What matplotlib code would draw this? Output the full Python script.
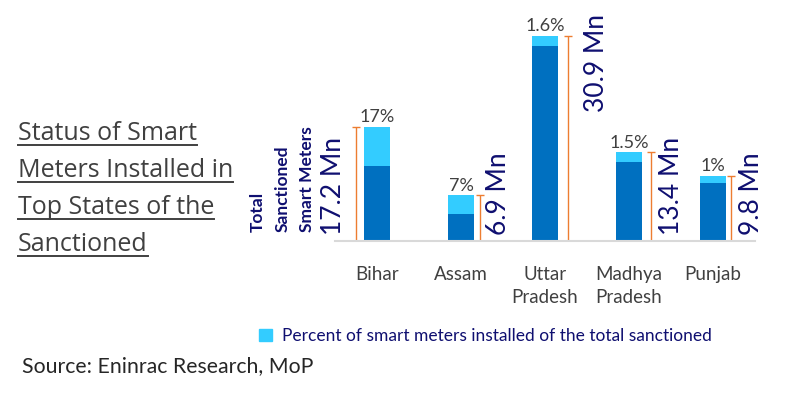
import matplotlib.pyplot as plt
from matplotlib.lines import Line2D
from matplotlib.patches import Patch

# data
states = ['Bihar', 'Assam', 'Uttar\nPradesh', 'Madhya\nPradesh', 'Punjab']
sanctioned_mn = [17.2, 6.9, 30.9, 13.4, 9.8]
# height of the light (installed) segment as drawn, in Mn
installed_seg = [5.9, 2.9, 1.65, 1.5, 1.05]
pct_labels = ['17%', '7%', '1.6%', '1.5%', '1%']
mn_labels = ['17.2 Mn', '6.9 Mn', '30.9 Mn', '13.4 Mn', '9.8 Mn']

title_lines = ['Status of Smart', 'Meters Installed in', 'Top States of the', 'Sanctioned']
side_label = ['Total', 'Sanctioned', 'Smart Meters']

DARK = '#0070C0'
LIGHT = '#33CCFF'
ORANGE = '#ED7D31'
NAVY = '#0F0F70'
GREY = '#404040'

plt.rcParams['font.family'] = ['Lato', 'DejaVu Sans']

W, H = 785, 393
fig = plt.figure(figsize=(W / 100, H / 100), dpi=100)
ax = fig.add_axes([335 / W, (H - 241) / H, 420 / W, 231 / H])
ax.set_xlim(-0.5, 4.5)
ax.set_ylim(0, 231 / 6.65)

x = list(range(len(states)))
dark = [t - s for t, s in zip(sanctioned_mn, installed_seg)]
ax.bar(x, dark, width=0.32, color=DARK)
ax.bar(x, installed_seg, bottom=dark, width=0.32, color=LIGHT)

# percent labels above bars
for xi, top, lab in zip(x, sanctioned_mn, pct_labels):
    ax.annotate(lab, (xi, top), xytext=(0, 1), textcoords='offset points',
                ha='center', va='bottom', fontsize=13, color=GREY)

# orange brackets showing the total sanctioned
br_off = [-0.25, 0.23, 0.27, 0.26, 0.22]
bx = [xi + o for xi, o in zip(x, br_off)]
half = [t / 2 for t in sanctioned_mn]
ax.errorbar(bx, half, yerr=half, fmt='none', ecolor=ORANGE, elinewidth=1,
            capsize=3, capthick=1)

# rotated Mn labels
lab_off = [-0.52, 0.45, 0.61, 0.51, 0.46]
for i, (xi, lab) in enumerate(zip(x, mn_labels)):
    if i == 2:
        ax.text(xi + lab_off[i], 34.2, lab, rotation=90, ha='center', va='top',
                fontsize=19, color=NAVY, clip_on=False)
    else:
        ax.text(xi + lab_off[i], 0.9, lab, rotation=90, ha='center', va='bottom',
                fontsize=19, color=NAVY, clip_on=False)

ax.set_xticks(x, states)
ax.tick_params(axis='x', length=0, pad=18, labelsize=13.5, labelcolor=GREY)
for lbl in ax.get_xticklabels():
    lbl.set_linespacing(1.45)
ax.set_yticks([])
for s in ['top', 'left', 'right']:
    ax.spines[s].set_visible(False)
ax.spines['bottom'].set_color('#D9D9D9')
ax.spines['bottom'].set_linewidth(1.5)

# side label
for px, txt in zip([258, 283, 307], side_label):
    fig.text(px / W, (H - 232) / H, txt, rotation=90, ha='center', va='bottom',
             fontsize=12.5, fontweight='bold', color=NAVY)

# underlined title
fig.canvas.draw()
renderer = fig.canvas.get_renderer()
for i, line in enumerate(title_lines):
    base = 140 + i * 37
    t = fig.text(18 / W, (H - base) / H, line, ha='left', va='baseline',
                 fontsize=18, color=GREY, family=['Open Sans', 'DejaVu Sans'])
    bb = t.get_window_extent(renderer)
    uy = (H - base - 5) / H
    fig.add_artist(Line2D([bb.x0 / W, bb.x1 / W], [uy, uy], color=GREY, lw=1.4))

# legend
fig.legend(handles=[Patch(color=LIGHT)],
           labels=['Percent of smart meters installed of the total sanctioned'],
           loc='center left', bbox_to_anchor=(259 / W, (H - 336) / H),
           frameon=False, handlelength=0.75, handleheight=0.75, handletextpad=0.6,
           borderaxespad=0, borderpad=0, fontsize=12.5, labelcolor=NAVY)

fig.text(22 / W, (H - 366) / H, 'Source: Eninrac Research, MoP', ha='left',
         va='center', fontsize=15.3, color='#262626')

fig.savefig('out.png', dpi=100)
